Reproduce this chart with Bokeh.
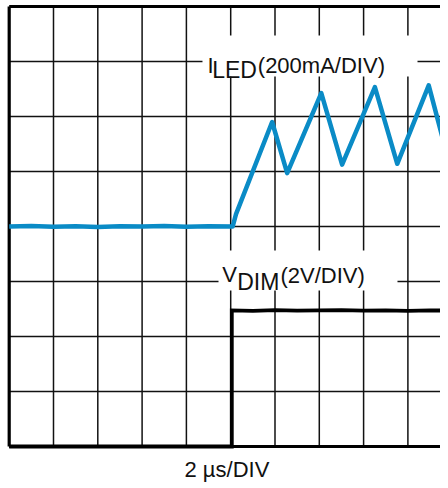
from bokeh.plotting import figure
from bokeh.models import ColumnDataSource, Title
from bokeh.core.properties import value
from bokeh.embed import file_html
from bokeh.resources import INLINE

# ---- data (time in microseconds, 2 us per division) ----
US_PER_DIV = 2.0
MA_PER_DIV = 200.0
V_PER_DIV = 2.0
ILED_ZERO_DIV = 4.0   # I_LED trace baseline sits on the 4th division line

t_led_us = [0.0, 1.0, 2.0, 3.0, 4.0, 5.0, 6.0, 7.0, 8.0, 9.0, 10.09, 10.24,
            11.87, 12.55, 14.09, 15.03, 16.51, 17.52, 18.94, 19.95]
i_led_ma = [0, 2, -1, 1, -2, 1, 0, 2, -1, 1, 0, 45,
            380, 194, 485, 225, 507, 228, 513, 205]

t_dim_us = [0.0, 10.05, 10.05, 11.0, 12.0, 13.0, 14.0, 15.0, 16.0, 17.0, 18.0, 19.0, 20.0]
v_dim_v = [0.0, 0.0, 4.95, 4.93, 4.96, 4.94, 4.95, 4.96, 4.94, 4.95, 4.93, 4.95, 4.94]

x_divs = [1, 2, 3, 4, 5, 6, 7, 8, 9]
y_divs = [1, 2, 3, 4, 5, 6, 7]
N_XDIV = 10
N_YDIV = 8

label_iled = ["I", "LED", "(200mA/DIV)"]
label_vdim = ["V", "DIM", "(2V/DIV)"]
x_title = "2 \u00b5s/DIV"

FONT = value("Liberation Sans")
BLUE = "#0A8BC6"
INK = "#111111"

p = figure(frame_width=440, frame_height=452, output_backend="svg", toolbar_location=None,
           x_range=(-0.1964, 9.736), y_range=(-0.109, 8.109),
           x_axis_location=None, y_axis_location=None, min_border=0)
p.outline_line_color = None
p.grid.visible = False
p.background_fill_color = "white"

# grid lines (stop at the frame borders)
p.segment(x0=x_divs, y0=[0] * len(x_divs), x1=x_divs, y1=[N_YDIV] * len(x_divs),
          line_color=INK, line_width=1.5)
p.segment(x0=[0] * len(y_divs), y0=y_divs, x1=[N_XDIV] * len(y_divs), y1=y_divs,
          line_color=INK, line_width=1.5)

# white label backgrounds
p.quad(left=[4.363, 4.725], right=[9.217, 8.765], bottom=[6.727, 2.836], top=[7.473, 3.564],
       fill_color="white", line_color=None)

# borders (left, top, bottom)
p.segment(x0=[0, 0, 0], y0=[0, N_YDIV, 0], x1=[0, N_XDIV, N_XDIV], y1=[N_YDIV, N_YDIV, 0],
          line_color="black", line_width=3.2)

# traces
led_src = ColumnDataSource(dict(
    x=[t / US_PER_DIV for t in t_led_us],
    y=[ILED_ZERO_DIV + i / MA_PER_DIV for i in i_led_ma]))
p.line("x", "y", source=led_src, line_color=BLUE, line_width=4.5, line_join="round")

dim_src = ColumnDataSource(dict(
    x=[t / US_PER_DIV for t in t_dim_us],
    y=[v / V_PER_DIV for v in v_dim_v]))
p.line("x", "y", source=dim_src, line_color="black", line_width=3.8, line_join="miter")

# labels
p.text(x=[4.476], y=[6.927], text=label_iled[:1],
       text_font=FONT, text_font_size="22px", text_color=INK,
       text_align="left", text_baseline="alphabetic")
p.text(x=[4.582], y=[6.845], text=label_iled[1:2],
       text_font=FONT, text_font_size="23px", text_color=INK,
       text_align="left", text_baseline="alphabetic")
p.text(x=[5.612], y=[6.927], text=label_iled[2:],
       text_font=FONT, text_font_size="22px", text_color=INK,
       text_align="left", text_baseline="alphabetic")
p.text(x=[4.808], y=[3.127], text=label_vdim[:1],
       text_font=FONT, text_font_size="22px", text_color=INK,
       text_align="left", text_baseline="alphabetic")
p.text(x=[5.147], y=[2.987], text=label_vdim[1:2],
       text_font=FONT, text_font_size="23px", text_color=INK,
       text_align="left", text_baseline="alphabetic")
p.text(x=[6.124], y=[3.109], text=label_vdim[2:],
       text_font=FONT, text_font_size="22px", text_color=INK,
       text_align="left", text_baseline="alphabetic")

p.add_layout(Title(text=x_title, align="left", text_font="Liberation Sans",
                   text_font_size="22px", text_font_style="normal", text_color=INK,
                   standoff=4, offset=184), "below")

open("out.html", "w").write(file_html(p, INLINE))
